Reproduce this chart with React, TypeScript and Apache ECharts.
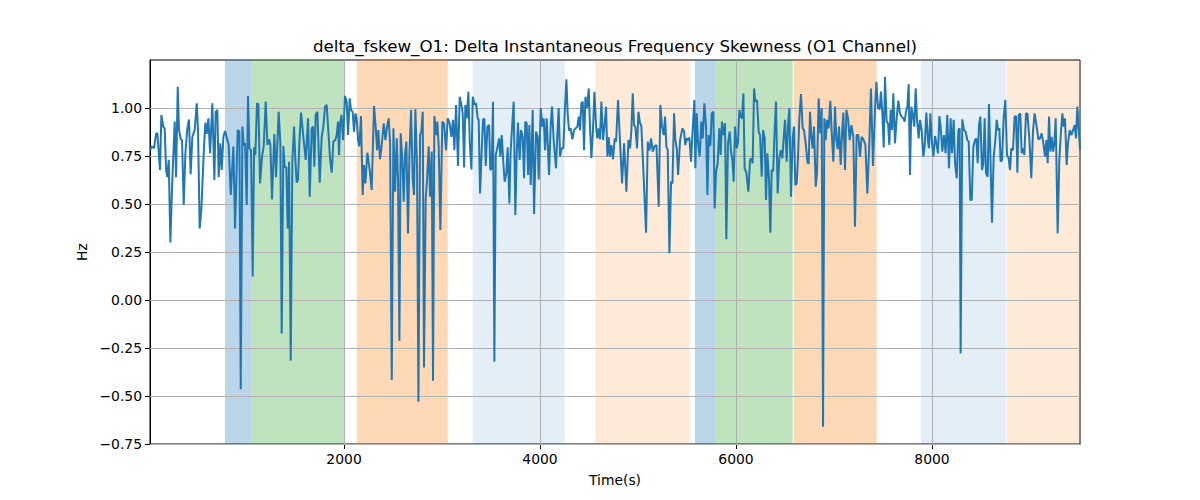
import React, { useEffect, useRef } from "react";
import * as echarts from "echarts";

const TITLE = "delta_fskew_O1: Delta Instantaneous Frequency Skewness (O1 Channel)";
const X_NAME = "Time(s)";
const Y_NAME = "Hz";
const X_TICKS = [2000, 4000, 6000, 8000];
const Y_TICKS = [-0.75, -0.5, -0.25, 0, 0.25, 0.5, 0.75, 1.0];
const X_MIN = 20;
const X_MAX = 9510;
const Y_MIN = -0.75;
const Y_MAX = 1.25;

// shaded stage bands: start, end (s), kind
const BAND_START = [785, 1056, 2130, 3313, 4564, 5581, 5786, 6588, 7888, 8765];
const BAND_END = [1056, 2000, 3058, 4252, 5531, 5786, 6578, 7435, 8758, 9510];
const BAND_KIND = ["blue", "green", "orange", "lightblue", "lightorange", "blue", "green", "orange", "lightblue", "lightorange"];

// [time (s), Hz]
const FSKEW: [number, number][] = [
  [20,0.78],[41,0.80],[61,0.79],[82,0.865],[95,0.87],[122,0.677],[136,0.964],[156,0.90],[170,0.894],[184,0.677],[197,0.64],[211,0.73],[228,0.299],[245,0.59],[272,0.93],[286,0.64],[303,1.11],[316,0.885],[333,0.84],[347,0.83],[364,0.495],[381,0.764],[401,0.894],[418,0.94],[435,0.655],[452,0.85],[476,0.885],[497,1.024],[510,0.885],[527,0.373],[544,0.469],[571,0.80],[585,0.924],[599,0.865],[616,0.946],[633,0.764],[656,1.024],[677,0.625],[690,0.98],[707,0.99],[721,0.64],[738,0.816],[752,0.677],[769,0.85],[786,0.88],
  [823,0.807],[844,0.547],[871,0.80],[888,0.373],[915,0.885],[932,0.877],[946,-0.465],[963,0.903],[976,0.807],[990,0.816],[1007,0.495],[1020,1.063],[1034,0.79],[1051,0.78],[1068,0.122],[1082,0.795],[1095,0.755],[1112,1.024],[1126,1.019],[1143,0.607],[1163,0.747],[1180,0.80],[1201,1.033],[1218,0.807],[1235,0.837],[1248,0.81],[1265,0.524],[1289,0.865],[1306,0.64],[1333,0.98],[1350,0.816],[1364,-0.174],[1381,0.802],[1394,0.694],[1411,0.69],[1425,0.373],[1439,0.72],[1456,-0.316],[1473,0.73],[1490,0.903],[1503,0.73],[1517,0.611],[1530,0.625],[1544,0.816],[1561,0.976],[1585,0.85],
  [1609,0.73],[1633,0.946],[1650,0.538],[1670,0.894],[1684,0.903],[1697,0.694],[1711,0.964],[1728,0.98],[1752,0.611],[1772,0.85],[1789,0.903],[1806,1.007],[1823,1.016],[1837,0.903],[1857,0.738],[1874,0.663],[1891,0.825],[1912,0.833],[1925,0.859],[1939,0.929],[1949,0.755],[1959,0.911],[1973,0.964],[1990,0.833],[2010,1.063],[2027,1.033],[2041,0.859],[2058,1.05],[2071,0.99],[2088,0.98],[2102,0.877],[2116,0.972],[2129,0.946],[2143,0.833],[2156,0.80],[2173,0.958],[2190,0.547],[2204,0.703],[2218,0.607],[2238,0.767],[2262,0.677],[2282,0.573],[2306,1.01],[2323,0.903],[2337,0.78],[2350,0.885],[2367,0.733],[2381,0.79],
  [2405,0.92],[2422,0.833],[2439,0.903],[2456,0.946],[2470,0.816],[2487,-0.417],[2504,0.894],[2521,0.564],[2538,0.842],[2551,0.625],[2565,-0.212],[2578,0.868],[2595,0.73],[2609,0.512],[2623,0.764],[2636,0.825],[2653,0.347],[2667,0.755],[2684,0.99],[2701,0.625],[2714,0.547],[2728,0.993],[2745,0.694],[2759,-0.53],[2776,0.859],[2789,0.877],[2803,0.98],[2816,-0.351],[2833,0.521],[2847,0.625],[2864,0.80],[2878,0.538],[2895,0.773],[2908,-0.42],[2922,0.958],[2939,0.859],[2952,0.929],[2966,0.80],[2983,0.365],[3003,0.929],[3020,0.92],[3041,0.78],[3058,0.946],[3078,0.92],[3095,0.85],[3112,0.938],[3126,0.78],[3143,1.016],[3163,0.698],[3180,1.059],
  [3201,1.007],[3211,0.972],[3225,0.69],[3238,1.016],[3252,0.946],[3269,1.085],[3283,0.816],[3300,0.68],[3313,1.059],[3334,1.016],[3347,1.024],[3364,0.946],[3374,0.938],[3388,0.555],[3405,0.78],[3418,0.938],[3432,0.946],[3446,0.698],[3463,0.903],[3480,0.911],[3493,0.677],[3507,0.686],[3520,1.033],[3534,-0.321],[3548,0.755],[3565,0.795],[3582,0.842],[3595,0.747],[3609,0.859],[3626,0.712],[3639,0.616],[3656,0.66],[3670,0.795],[3687,0.503],[3700,0.773],[3717,0.92],[3731,1.033],[3748,0.443],[3762,0.764],[3775,0.924],[3792,0.73],[3806,0.885],[3823,0.85],[3837,0.634],[3850,0.929],[3864,0.92],[3878,0.651],[3891,0.911],[3905,0.599],[3925,0.99],[3939,0.448],[3959,0.877],[3976,0.85],[3986,0.628],
  [4007,1.0],[4024,0.903],[4038,0.946],[4051,0.78],[4068,0.946],[4092,0.651],[4109,0.911],[4122,1.007],[4139,0.833],[4163,0.686],[4177,0.868],[4190,1.0],[4204,0.747],[4221,0.79],[4238,0.79],[4255,1.007],[4269,1.149],[4282,0.972],[4296,0.882],[4313,0.894],[4330,0.837],[4347,0.885],[4364,0.894],[4381,0.903],[4395,0.955],[4408,0.885],[4422,1.024],[4436,1.033],[4449,0.78],[4463,1.059],[4480,1.0],[4497,1.102],[4510,0.903],[4524,0.738],[4538,0.859],[4555,1.085],[4572,0.903],[4585,0.842],[4599,0.894],[4612,0.837],[4626,1.033],[4643,0.833],[4660,0.92],[4674,1.007],[4687,0.747],[4701,0.847],[4714,0.747],[4728,0.807],[4745,0.733],[4762,0.842],
  [4776,0.825],[4796,1.042],[4813,0.859],[4837,0.607],[4858,0.816],[4881,0.564],[4902,0.833],[4919,0.79],[4932,0.885],[4946,1.076],[4959,0.911],[4973,0.903],[4990,0.79],[5004,0.98],[5021,0.92],[5034,0.906],[5055,0.668],[5082,0.351],[5099,0.825],[5116,0.778],[5133,0.842],[5150,0.773],[5167,0.80],[5188,0.807],[5211,0.486],[5228,1.016],[5245,0.903],[5262,0.859],[5276,0.955],[5289,0.80],[5303,0.78],[5320,0.243],[5337,0.616],[5351,0.607],[5368,0.972],[5381,0.833],[5395,0.79],[5409,0.651],[5429,0.833],[5453,0.894],[5470,0.877],[5483,0.807],[5497,0.842],[5511,0.833],[5524,0.847],[5541,0.72],[5558,0.894],[5575,1.042],[5585,0.686],
  [5599,0.972],[5612,0.825],[5629,0.747],[5646,0.929],[5660,0.842],[5677,1.024],[5694,0.903],[5708,0.547],[5721,0.859],[5738,0.802],[5752,0.972],[5769,0.98],[5782,0.477],[5796,0.668],[5813,0.712],[5830,0.894],[5843,0.755],[5857,0.929],[5874,0.859],[5888,0.92],[5901,0.316],[5918,0.816],[5935,0.877],[5949,0.773],[5963,0.73],[5976,0.616],[5990,0.903],[6007,0.79],[6020,0.819],[6034,0.99],[6048,0.955],[6061,0.946],[6075,1.076],[6088,0.686],[6105,0.663],[6126,0.564],[6143,0.73],[6156,0.738],[6170,0.712],[6184,1.102],[6197,1.033],[6214,1.042],[6231,0.877],[6245,0.859],[6262,0.642],[6276,0.885],[6293,0.842],[6306,0.521],[6320,0.764],[6337,0.625],[6350,0.351],[6364,0.677],[6379,0.67],
  [6394,0.885],[6408,1.033],[6425,0.555],[6442,0.738],[6456,0.78],[6473,0.738],[6486,0.842],[6500,0.938],[6517,0.72],[6530,0.903],[6544,1.0],[6561,0.538],[6578,0.842],[6592,0.903],[6605,0.599],[6619,0.607],[6633,0.747],[6646,0.946],[6663,1.073],[6680,0.894],[6694,0.885],[6711,0.816],[6728,0.72],[6741,0.708],[6755,0.98],[6769,0.85],[6782,0.79],[6796,0.903],[6813,0.59],[6826,0.66],[6843,1.05],[6860,0.868],[6874,1.0],[6888,-0.66],[6901,0.946],[6915,0.833],[6928,0.938],[6945,0.894],[6962,1.038],[6976,0.877],[6993,0.72],[7010,1.007],[7024,0.833],[7037,0.785],[7051,0.903],[7068,0.703],[7081,0.859],[7095,0.976],[7112,0.677],[7126,0.99],[7143,0.946],[7160,0.833],[7177,0.911],
  [7197,0.85],[7214,0.382],[7231,0.859],[7248,0.859],[7265,0.747],[7282,0.85],[7303,0.833],[7320,0.807],[7340,0.555],[7360,0.816],[7377,1.102],[7398,0.698],[7418,0.99],[7432,1.137],[7449,1.0],[7466,0.993],[7479,1.085],[7493,0.972],[7507,0.795],[7520,1.163],[7537,0.929],[7551,0.92],[7564,0.807],[7578,0.99],[7592,0.885],[7605,1.076],[7622,0.816],[7639,0.946],[7656,1.038],[7673,0.972],[7690,0.955],[7707,0.946],[7721,0.929],[7734,0.98],[7748,1.007],[7762,1.125],[7775,0.651],[7789,1.007],[7802,0.969],[7819,0.903],[7833,1.102],[7847,0.938],[7864,0.842],[7877,0.938],[7894,0.885],[7911,0.747],[7925,0.80],[7942,0.976],[7959,0.825],
  [7969,0.79],[7983,0.972],[7997,0.833],[8014,0.747],[8031,0.854],[8044,0.816],[8061,0.764],[8075,0.958],[8088,0.903],[8105,0.773],[8122,0.859],[8139,0.764],[8156,0.964],[8173,0.686],[8190,0.946],[8204,0.764],[8221,0.938],[8235,0.712],[8252,0.634],[8269,0.885],[8282,0.894],[8292,-0.278],[8309,0.941],[8326,0.885],[8343,0.877],[8360,0.833],[8374,0.825],[8391,0.521],[8405,0.521],[8422,0.80],[8439,0.833],[8452,0.842],[8466,0.712],[8479,0.911],[8493,0.955],[8510,0.677],[8524,0.712],[8537,0.946],[8551,0.66],[8568,0.642],[8581,1.021],[8595,0.764],[8612,0.403],[8629,0.747],[8646,0.833],[8660,0.938],[8673,0.885],[8687,0.894],[8700,0.72],[8714,0.73],[8731,0.946],[8748,1.042],
  [8765,0.755],[8782,0.738],[8796,0.677],[8809,0.79],[8826,0.78],[8843,0.955],[8857,0.958],[8871,0.663],[8884,0.964],[8901,0.972],[8915,0.764],[8932,0.79],[8942,0.755],[8959,0.972],[8973,0.972],[8993,0.842],[9013,0.634],[9030,0.877],[9047,0.972],[9068,0.903],[9085,0.837],[9102,0.842],[9119,0.868],[9136,0.816],[9153,0.747],[9167,0.833],[9180,0.712],[9194,0.955],[9207,0.773],[9221,0.85],[9235,0.773],[9248,0.816],[9262,0.946],[9282,0.347],[9299,0.73],[9316,0.877],[9330,0.972],[9343,0.903],[9357,0.946],[9374,0.703],[9387,0.816],[9405,0.885],[9422,0.859],[9439,0.885],[9456,0.911],[9469,0.842],[9483,1.007],[9496,0.903],[9510,0.78],
];

const BAND_COLORS: Record<string, string> = {
  blue: "rgba(31,119,180,0.3)",
  green: "rgba(44,160,44,0.3)",
  orange: "rgba(255,127,14,0.3)",
  lightblue: "rgba(31,119,180,0.12)",
  lightorange: "rgba(255,127,14,0.16)",
};

const FONT = "DejaVu Sans";

export default function App() {
  const ref = useRef<HTMLDivElement>(null);
  useEffect(() => {
    if (!ref.current) return;
    const chart = echarts.init(ref.current, undefined, { renderer: "svg" });
    const bands = BAND_START.map((s, i) => [
      { xAxis: s, itemStyle: { color: BAND_COLORS[BAND_KIND[i]] } },
      { xAxis: BAND_END[i] },
    ]);
    const gridLines = [
      ...Y_TICKS.map((v) => ({ yAxis: v })),
      ...X_TICKS.map((v) => ({ xAxis: v })),
    ];
    chart.setOption({
      animation: false,
      textStyle: { fontFamily: FONT },
      graphic: [
        {
          type: "text",
          x: 615,
          y: 46,
          style: {
            text: TITLE,
            fontSize: 16.7,
            fontFamily: FONT,
            fill: "#000",
            textAlign: "center",
            textVerticalAlign: "middle",
          },
        },
      ],
      grid: {
        left: 150,
        right: 120,
        top: 60,
        bottom: 56,
        show: true,
        borderColor: "#000",
        borderWidth: 1,
        backgroundColor: "transparent",
      },
      xAxis: {
        type: "value",
        min: X_MIN,
        max: X_MAX,
        name: X_NAME,
        nameLocation: "middle",
        nameGap: 29,
        nameTextStyle: { fontSize: 13.9, color: "#000", fontFamily: FONT },
        axisLine: { show: true, onZero: false, lineStyle: { color: "#000", width: 1 } },
        axisTick: { show: true, customValues: X_TICKS, length: 5, lineStyle: { color: "#000", width: 1 } },
        axisLabel: { customValues: X_TICKS, color: "#000", fontSize: 13.9, fontFamily: FONT, margin: 8, formatter: (v: number) => String(v) },
        splitLine: { show: false },
      },
      yAxis: {
        type: "value",
        min: Y_MIN,
        max: Y_MAX,
        interval: 0.25,
        name: Y_NAME,
        nameLocation: "middle",
        nameGap: 56,
        nameRotate: 90,
        nameTextStyle: { fontSize: 13.9, color: "#000", fontFamily: FONT },
        axisLine: { show: true, onZero: false, lineStyle: { color: "#000", width: 1 } },
        axisTick: { show: true, length: 5, lineStyle: { color: "#000", width: 1 } },
        axisLabel: {
          color: "#000",
          fontSize: 13.9,
          fontFamily: FONT,
          margin: 8,
          showMaxLabel: false,
          formatter: (v: number) => (v < 0 ? "\u2212" + Math.abs(v).toFixed(2) : v.toFixed(2)),
        },
        splitLine: { show: false },
      },
      series: [
        {
          type: "line",
          data: [],
          silent: true,
          markArea: { silent: true, z: 1, data: bands },
        },
        {
          type: "line",
          data: [],
          silent: true,
          markLine: {
            silent: true,
            z: 2,
            symbol: ["none", "none"],
            label: { show: false },
            lineStyle: { color: "#b0b0b0", width: 1, type: "solid" },
            data: gridLines,
          },
        },
        {
          type: "line",
          data: FSKEW,
          z: 3,
          showSymbol: false,
          symbol: "none",
          lineStyle: { color: "#1f77b4", width: 2 },
          itemStyle: { color: "#1f77b4" },
        },
      ],
    });
    return () => chart.dispose();
  }, []);
  return (
    <div
      ref={ref}
      style={{ position: "fixed", left: 0, top: 0, width: 1200, height: 500, background: "#fff" }}
    />
  );
}
